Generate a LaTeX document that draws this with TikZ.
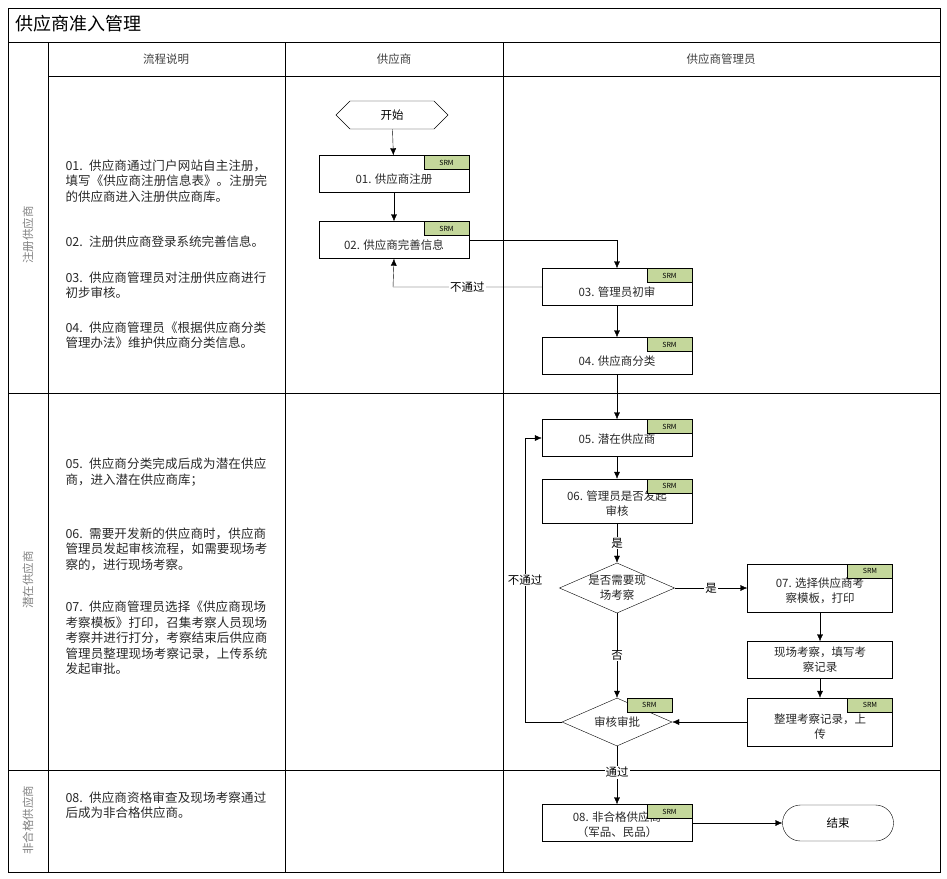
\documentclass[tikz,border=0pt]{standalone}
\usepackage{fontspec}
\setmainfont{Noto Sans CJK SC}
\XeTeXlinebreaklocale "zh"
\XeTeXlinebreakskip=0pt plus 1pt
\usetikzlibrary{shapes.geometric,shapes.symbols,arrows.meta}
\definecolor{srmgreen}{RGB}{196,215,155}
\definecolor{txt}{RGB}{40,40,40}
\newcommand{\fs}{\fontsize{11.5}{15}\selectfont}
\newcommand{\fd}{\fontsize{12.5}{15.5}\selectfont}
\tikzset{
  box/.style={draw,rectangle,minimum width=150pt,minimum height=37pt,inner sep=0pt},
  boxtext/.style={align=center,font=\fs,text=txt,inner sep=0pt},
  dia/.style={draw,diamond,aspect=2.3,minimum width=110pt,minimum height=48pt,inner sep=0pt,align=center,font=\fs,text=txt},
  tag/.style={draw,fill=srmgreen,minimum width=45pt,minimum height=14pt,inner sep=0pt,font=\fontsize{7}{7}\selectfont,anchor=north east},
  flow/.style={-{Latex[length=7pt,width=6pt]},thin},
  lbl/.style={fill=white,inner sep=1pt,font=\fs},
  desc/.style={text width=205pt,align=left,font=\fd,text=txt,anchor=west}
}
% box with text set below the SRM tag
\newcommand{\stepbox}[5][]{%
  \node[box,#1] (#2) at (#3) {};
  \node[boxtext] (#2-t) at ([yshift=-#4]#2.center) {#5};}
\newcommand{\srmtag}[2]{\node[tag] (#1) at (#2) {SRM};}
\begin{document}
\begin{tikzpicture}[x=1pt,y=-1pt]
\useasboundingbox (0,0) rectangle (947,878);
% frame and lanes
\draw (8,8) rectangle (940,872);
\draw (8,42) -- (940,42);
\draw (48,42) -- (48,872);
\draw (48,76) -- (940,76);
\draw (285,42) -- (285,872);
\draw (503,42) -- (503,872);
\draw (8,393) -- (940,393);
\draw (8,770) -- (940,770);
\node[anchor=west,font=\fontsize{18}{18}\selectfont] (title) at (12,24) {供应商准入管理};
\node[text=darkgray,font=\fs] (h1) at (166,59) {流程说明};
\node[text=darkgray,font=\fs] (h2) at (394,59) {供应商};
\node[text=darkgray,font=\fs] (h3) at (721,59) {供应商管理员};
\node[rotate=90,text=gray,font=\fs] (l1) at (28,235) {注册供应商};
\node[rotate=90,text=gray,font=\fs] (l2) at (28,580) {潜在供应商};
\node[rotate=90,text=gray,font=\fs] (l3) at (28,820) {非合格供应商};
% descriptions
\node[desc] (d01) at (62,181) {01. 供应商通过门户网站自主注册，填写《供应商注册信息表》。注册完的供应商进入注册供应商库。};
\node[desc] (d02) at (62,242) {02. 注册供应商登录系统完善信息。};
\node[desc] (d03) at (62,285) {03. 供应商管理员对注册供应商进行初步审核。};
\node[desc] (d04) at (62,335) {04. 供应商管理员《根据供应商分类管理办法》维护供应商分类信息。};
\node[desc] (d05) at (62,472) {05. 供应商分类完成后成为潜在供应商，进入潜在供应商库；};
\node[desc] (d06) at (62,549) {06. 需要开发新的供应商时，供应商管理员发起审核流程，如需要现场考察的，进行现场考察。};
\node[desc] (d07) at (62,638) {07. 供应商管理员选择《供应商现场考察模板》打印，召集考察人员现场考察并进行打分，考察结束后供应商管理员整理现场考察记录，上传系统发起审批。};
\node[desc] (d08) at (62,805) {08. 供应商资格审查及现场考察通过后成为非合格供应商。};
% flow nodes
\node[draw,signal,signal to=east and west,minimum width=112pt,minimum height=28pt,inner sep=0pt,font=\fs] (start) at (392,115) {开始};
\stepbox{n01}{394,174}{5pt}{01. 供应商注册}
\srmtag{t01}{n01.north east}
\stepbox{n02}{394,240}{5pt}{02. 供应商完善信息}
\srmtag{t02}{n02.north east}
\stepbox{n03}{617,287}{5pt}{03. 管理员初审}
\srmtag{t03}{n03.north east}
\stepbox{n04}{617,356}{5pt}{04. 供应商分类}
\srmtag{t04}{n04.north east}
\stepbox{n05}{617,438}{1pt}{05. 潜在供应商}
\srmtag{t05}{n05.north east}
\stepbox[minimum height=44pt]{n06}{617,501}{3pt}{06. 管理员是否发起\\审核}
\srmtag{t06}{n06.north east}
\node[dia] (q1) at (617,588) {是否需要现\\场考察};
\stepbox[minimum width=145pt,minimum height=48pt]{n07}{820,588}{3pt}{07. 选择供应商考\\察模板，打印}
\srmtag{t07}{n07.north east}
\stepbox[minimum width=145pt]{n07b}{820,660}{0pt}{现场考察，填写考\\察记录}
\stepbox[minimum width=145pt,minimum height=48pt]{n07c}{820,722}{5pt}{整理考察记录，上\\传}
\srmtag{t07c}{n07c.north east}
\node[dia] (q2) at (617,722) {审核审批};
\srmtag{t08}{672,698}
\stepbox{n08}{617,823}{2pt}{08. 非合格供应商\\（军品、民品）}
\srmtag{t09}{n08.north east}
\node[draw,rounded corners=18pt,minimum width=111pt,minimum height=36pt,font=\fs] (stop) at (838,823) {结束};
\coordinate (c1) at (393,287);
\coordinate (c2) at (525,722);
% connectors
\draw[flow] (start) -- (n01);
\draw[flow] (n01) -- (n02);
\draw[flow] (n02.east) -| (n03.north);
\draw[flow] (n03.west) -- node[lbl] {不通过} (c1) -- (n02.south);
\draw[flow] (n03) -- (n04);
\draw[flow] (n04) -- (n05);
\draw[flow] (n05) -- (n06);
\draw[flow] (n06) -- node[lbl] {是} (q1);
\draw[flow] (q1) -- node[lbl] {是} (n07);
\draw[flow] (q1) -- node[lbl] {否} (q2);
\draw[flow] (n07) -- (n07b);
\draw[flow] (n07b) -- (n07c);
\draw[flow] (n07c) -- (q2);
\draw[flow] (q2.west) -- (c2) |- node[pos=0.25,lbl] {不通过} (n05.west);
\draw[flow] (q2) -- node[pos=0.45,lbl] {通过} (n08);
\draw[flow] (n08) -- (stop);
\end{tikzpicture}
\end{document}
